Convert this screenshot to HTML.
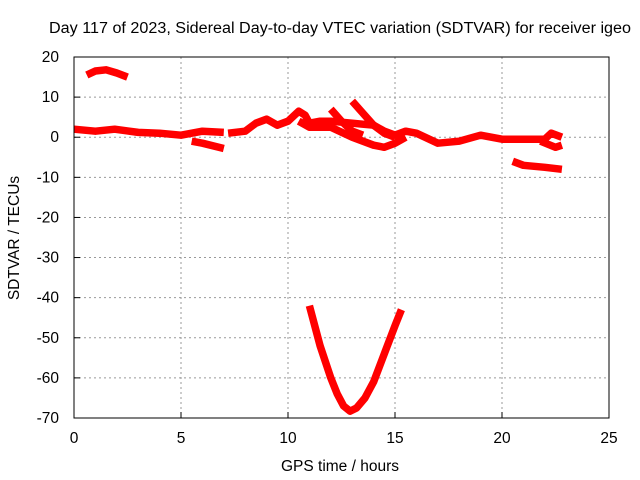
<!DOCTYPE html>
<html><head><meta charset="utf-8"><style>
body{margin:0;background:#fff;}
svg{display:block;font-family:"Liberation Sans",sans-serif;font-size:15.5px;}
</style></head><body>
<svg id="c" width="640" height="480">
<text x="340" y="33" text-anchor="middle" textLength="582" lengthAdjust="spacingAndGlyphs">Day 117 of 2023, Sidereal Day-to-day VTEC variation (SDTVAR) for receiver igeo</text>
<text x="340" y="471" text-anchor="middle">GPS time / hours</text>
<text transform="translate(19,238) rotate(-90)" text-anchor="middle">SDTVAR / TECUs</text>
<g id="grid"></g><g id="series"></g>
<rect x="74" y="57" width="535" height="361" fill="none" stroke="#000" stroke-width="1"/>
</svg>
<script>
const xTicks=[0,5,10,15,20,25];
const yTicks=[20,10,0,-10,-20,-30,-40,-50,-60,-70];
const s1h=[0.6,1,1.5,2,2.5], s1v=[15.5,16.5,16.8,16,15];
const s2h=[0,1,1.9,3,4,5,5.5,6,7], s2v=[2,1.5,2,1.2,1,0.5,1,1.5,1.2];
const s3h=[5.5,6,7], s3v=[-1,-1.5,-2.8];
const s4h=[7.2,8,8.5,9,9.5,10,10.5,10.8,11,11.5,12,13,14,14.5,15,15.5,16,17,18,19,20,21,22,22.3,22.8];
const s4v=[1,1.5,3.5,4.5,3,4,6.5,5.5,3.5,4,4,3.5,3,1.5,0.5,1.5,1,-1.5,-1,0.5,-0.5,-0.5,-0.5,1,0];
const s5h=[10.5,11,12,13,14,14.5,15,15.5], s5v=[4,2.5,2.5,0,-2,-2.5,-1.5,0];
const s6h=[12,12.5,13,13.5], s6v=[7,4,1.5,0.5];
const s7h=[13,13.5,14,14.5,15], s7v=[9,6,3,1,0];
const s8h=[21.8,22.5,22.8], s8v=[-1,-2.5,-2];
const s9h=[20.5,21,22,22.8], s9v=[-6,-7,-7.5,-8];
const s10h=[11,11.5,12,12.3,12.6,12.9,13.2,13.6,14,14.5,15,15.3], s10v=[-42,-52,-60,-64,-67,-68.3,-67.5,-65,-61,-54,-47,-43];
const X=h=>74+h*535/25, Y=v=>57+(20-v)*361/90;
const NS="http://www.w3.org/2000/svg";
const g=document.getElementById('grid'), sg=document.getElementById('series');
function mk(t,a,p){const e=document.createElementNS(NS,t);for(const k in a)e.setAttribute(k,a[k]);p.appendChild(e);return e;}
xTicks.forEach(t=>{
 if(t>0&&t<25){const l=mk('line',{x1:X(t),x2:X(t),y1:57,y2:418,stroke:'#999','stroke-dasharray':'2,3'},g);
 
 }
 const tk=mk('line',{x1:X(t),x2:X(t),y1:418,y2:412,stroke:'#000'},g);
 
 
 const tx=mk('text',{x:X(t),y:443,'text-anchor':'middle'},g);tx.textContent=t;
 
 
});
yTicks.forEach(t=>{
 if(t<20&&t>-70){const l=mk('line',{x1:74,x2:609,y1:Y(t),y2:Y(t),stroke:'#999','stroke-dasharray':'2,3'},g);
 
 }
 const tk=mk('line',{x1:74,x2:80,y1:Y(t),y2:Y(t),stroke:'#000'},g);
 
 
 const tx=mk('text',{x:59,y:Y(t)+5,'text-anchor':'end'},g);tx.textContent=t;
 
 
});
const all=[[s1h,s1v],[s2h,s2v],[s3h,s3v],[s4h,s4v],[s5h,s5v],[s6h,s6v],[s7h,s7v],[s8h,s8v],[s9h,s9v],[s10h,s10v]];
all.forEach((s,i)=>{
 const pts=s[0].map((h,j)=>X(h).toFixed(1)+','+Y(s[1][j]).toFixed(1)).join(' ');
 const p=mk('polyline',{points:pts,fill:'none',stroke:'#f00','stroke-width':7.5,'stroke-linejoin':'round','stroke-linecap':'butt'},sg);
 
 
});
</script>
</body></html>
